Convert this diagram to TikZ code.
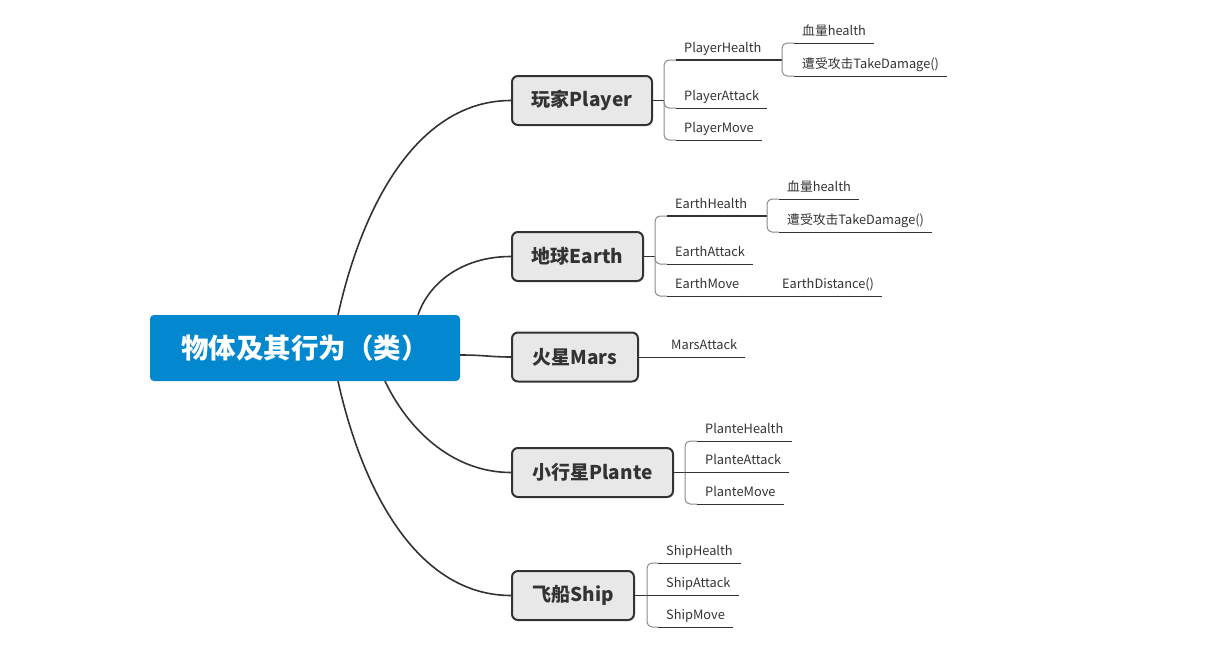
\documentclass[tikz,border=0pt]{standalone}
\usepackage{fontspec}
\setmainfont{Noto Sans CJK SC}
\definecolor{rootblue}{HTML}{0388D0}
\definecolor{boxfill}{HTML}{E8E8E8}
\definecolor{dark}{HTML}{333333}
\definecolor{brk}{HTML}{8A8A8A}
\begin{document}
\begin{tikzpicture}[x=1pt,y=-1pt,
  rootbox/.style={draw=none,fill=rootblue,rounded corners=4pt,text=white,
    font=\fontsize{27.5}{30}\selectfont\bfseries,minimum height=66pt,minimum width=310pt,inner sep=0pt},
  topic/.style={draw=dark,line width=2pt,fill=boxfill,rounded corners=6pt,text=dark,
    font=\fontsize{19}{22}\selectfont\bfseries,minimum height=49pt,inner sep=0pt,anchor=west},
  leaf/.style={anchor=south west,inner xsep=8pt,inner ysep=7.5pt,text depth=0pt,text=dark,
    font=\fontsize{12.8}{15}\selectfont},
  mainline/.style={draw=dark,line width=1.6pt},
  stub/.style={draw=dark,line width=1.4pt},
  bracket/.style={draw=brk,line width=1pt,rounded corners=5pt},
  uline/.style={draw=dark,line width=1pt},
  thickline/.style={draw=dark,line width=1.5pt}
]
\useasboundingbox (0,0) rectangle (1219,656);

% start coordinates on the root
\coordinate (r1) at (338,315);
\coordinate (r2) at (418,315);
\coordinate (r3) at (460,355);
\coordinate (r4) at (385,381);
\coordinate (r5) at (338,381);

% main curves
\draw[mainline] (r1) .. controls (364,198) and (421,100.5) .. (511,100.5);
\draw[mainline] (r2) .. controls (428,285) and (460,256.5) .. (511,256.5);
\draw[mainline] (r3) .. controls (485,355) and (490,357) .. (511,357);
\draw[mainline] (r4) .. controls (406,426) and (450,472.5) .. (511,472.5);
\draw[mainline] (r5) .. controls (364,498) and (421,595.5) .. (511,595.5);

\node[rootbox] (root) at (305,348) {物体及其行为（类）};

\node[topic,minimum width=140pt] (player) at (511,100.5) {玩家Player};
\node[topic,minimum width=131pt] (earth) at (511,256.5) {地球Earth};
\node[topic,minimum width=126pt] (mars) at (511,357) {火星Mars};
\node[topic,minimum width=161pt] (plante) at (511,472.5) {小行星Plante};
\node[topic,minimum width=122pt] (ship) at (511,595.5) {飞船Ship};

% ---------- Player ----------
\coordinate (pb) at (664,100.5);
\draw[stub] (player.east) -- (pb);
\node[leaf] (ph) at (676,60) {PlayerHealth};
\node[leaf] (pa) at (676,108) {PlayerAttack};
\node[leaf] (pm) at (676,140) {PlayerMove};
\draw[bracket] (pb) |- (ph.south west);
\draw[bracket] (pb) |- (pa.south west);
\draw[bracket] (pb) |- (pm.south west);
\coordinate (phb) at (782,60);
\draw[thickline] (ph.south west) -- (phb);
\draw[uline] (pa.south west) -- (pa.south east);
\draw[uline] (pm.south west) -- (pm.south east);
\node[leaf] (ph1) at (794,43) {血量health};
\node[leaf] (ph2) at (794,76) {遭受攻击TakeDamage()};
\draw[bracket] (phb) |- (ph1.south west);
\draw[bracket] (phb) |- (ph2.south west);
\draw[uline] (ph1.south west) -- (ph1.south east);
\draw[uline] (ph2.south west) -- (ph2.south east);

% ---------- Earth ----------
\coordinate (eb) at (655,256.5);
\draw[stub] (earth.east) -- (eb);
\node[leaf] (eh) at (667,216) {EarthHealth};
\node[leaf] (ea) at (667,264) {EarthAttack};
\node[leaf] (em) at (667,296) {EarthMove};
\draw[bracket] (eb) |- (eh.south west);
\draw[bracket] (eb) |- (ea.south west);
\draw[bracket] (eb) |- (em.south west);
\coordinate (ehb) at (767,216);
\draw[thickline] (eh.south west) -- (ehb);
\draw[uline] (ea.south west) -- (ea.south east);
\node[leaf] (eh1) at (779,199) {血量health};
\node[leaf] (eh2) at (779,232) {遭受攻击TakeDamage()};
\draw[bracket] (ehb) |- (eh1.south west);
\draw[bracket] (ehb) |- (eh2.south west);
\draw[uline] (eh1.south west) -- (eh1.south east);
\draw[uline] (eh2.south west) -- (eh2.south east);
\node[leaf] (ed) at (774,296) {EarthDistance()};
\draw[uline] (em.south west) -- (ed.south east);

% ---------- Mars ----------
\node[leaf] (mat) at (663,357) {MarsAttack};
\draw[uline] (mars.east) -- (mat.south east);

% ---------- Plante ----------
\coordinate (plb) at (685,472.5);
\draw[stub] (plante.east) -- (plb);
\node[leaf] (plh) at (697,441) {PlanteHealth};
\node[leaf] (pla) at (697,472.5) {PlanteAttack};
\node[leaf] (plm) at (697,504) {PlanteMove};
\draw[bracket] (plb) |- (plh.south west);
\draw[bracket] (plb) |- (plm.south west);
\draw[uline] (plb) -- (pla.south east);
\draw[uline] (plh.south west) -- (plh.south east);
\draw[uline] (plm.south west) -- (plm.south east);

% ---------- Ship ----------
\coordinate (sb) at (647,595.5);
\draw[stub] (ship.east) -- (sb);
\node[leaf] (sh) at (658,563) {ShipHealth};
\node[leaf] (sa) at (658,595.5) {ShipAttack};
\node[leaf] (sm) at (658,627) {ShipMove};
\draw[bracket] (sb) |- (sh.south west);
\draw[bracket] (sb) |- (sm.south west);
\draw[uline] (sb) -- (sa.south east);
\draw[uline] (sh.south west) -- (sh.south east);
\draw[uline] (sm.south west) -- (sm.south east);
\end{tikzpicture}
\end{document}
